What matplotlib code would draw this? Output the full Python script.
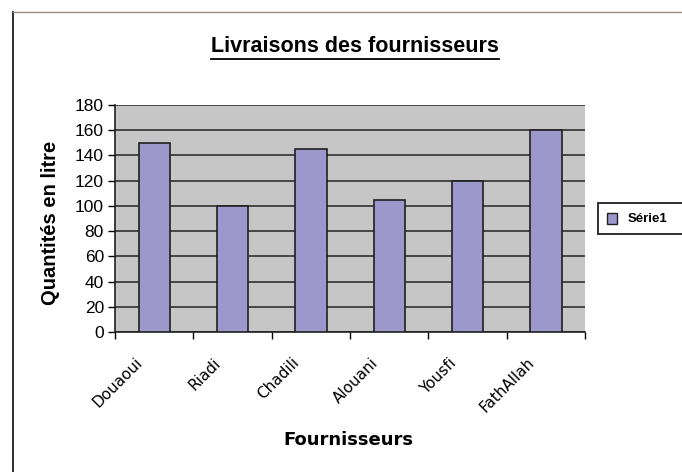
import numpy as np
import matplotlib
matplotlib.use("Agg")
import matplotlib.pyplot as plt
from matplotlib.lines import Line2D
from matplotlib.patches import Rectangle
from matplotlib.transforms import ScaledTranslation

plt.rcParams["font.family"] = ["Liberation Sans", "DejaVu Sans"]

fournisseurs = ["Douaoui", "Riadi", "Chadili", "Alouani", "Yousfi", "FathAllah"]
quantites = [150, 100, 145, 105, 120, 160]
y_ticks = list(range(0, 181, 20))
serie = "Série1"

BAR_COLOR = "#9c98cc"
W, H = 682, 472

fig = plt.figure(figsize=(W / 100, H / 100), dpi=100)
ax = fig.add_axes([115 / W, 1 - 332 / H, 470 / W, 227 / H])

x = np.arange(len(fournisseurs))
ax.set_facecolor("#c6c6c6")
ax.bar(x, quantites, width=0.40, color=BAR_COLOR, edgecolor="#202020",
       linewidth=1.2, zorder=3, label=serie)

ax.set_xlim(-0.5, len(fournisseurs) - 0.5)
ax.set_ylim(0, 180)
ax.set_yticks(y_ticks)
ax.yaxis.grid(True, color="#303030", linewidth=1.2, zorder=1)
ax.tick_params(axis="y", direction="out", length=5, width=1, labelsize=12.5, pad=3)

# category labels at centres, tick marks at the boundaries
ax.set_xticks(x)
ax.set_xticklabels(fournisseurs, rotation=45, ha="right", va="top",
                   rotation_mode="anchor", fontsize=11, family="DejaVu Sans")
ax.tick_params(axis="x", length=0, pad=0)
shift = ScaledTranslation(-0.19, -0.23, fig.dpi_scale_trans)
for lab in ax.get_xticklabels():
    lab.set_transform(lab.get_transform() + shift)
ax.set_xticks(np.arange(-0.5, len(fournisseurs)), minor=True)
ax.tick_params(axis="x", which="minor", direction="out", length=5, width=1)

for side in ["top", "right"]:
    ax.spines[side].set_visible(False)
for side in ["left", "bottom"]:
    ax.spines[side].set_linewidth(1.2)
    ax.spines[side].set_color("#202020")

ax.set_ylabel("Quantités en litre", fontsize=14.5, fontweight="bold")
ax.yaxis.set_label_coords((60 - 115) / 470, (332 - 223) / 227)
fig.text(348 / W, 1 - 440 / H, "Fournisseurs", ha="center", va="center",
         fontsize=13, fontweight="bold", family="DejaVu Sans")

title = fig.text(355 / W, 1 - 47 / H, "Livraisons des fournisseurs",
                 ha="center", va="center", fontsize=15.5, fontweight="bold")

# legend box running off the right edge, as in the original
fig.add_artist(Rectangle((598 / W, 1 - 234 / H), 100 / W, 31 / H,
                         transform=fig.transFigure, facecolor="white",
                         edgecolor="#303030", linewidth=1.4))
fig.add_artist(Rectangle((607 / W, 1 - 224 / H), 10 / W, 11 / H,
                         transform=fig.transFigure, facecolor=BAR_COLOR,
                         edgecolor="#202020", linewidth=1))
fig.text(628 / W, 1 - 219 / H, serie, ha="left", va="center",
         fontsize=9.5, fontweight="bold")

# chart-area border (left and top)
fig.add_artist(Line2D([13 / W, 13 / W], [0, 1 - 12 / H],
                      transform=fig.transFigure, color="#303030", linewidth=1.4))
fig.add_artist(Line2D([13 / W, 1], [1 - 12 / H, 1 - 12 / H],
                      transform=fig.transFigure, color="#a08c8c", linewidth=1.0))

# underline the title
fig.canvas.draw()
bb = title.get_window_extent().transformed(fig.transFigure.inverted())
fig.add_artist(Line2D([bb.x0, bb.x1], [bb.y0 - 0.003, bb.y0 - 0.003],
                      transform=fig.transFigure, color="black", linewidth=1.3))

fig.savefig("out.png", dpi=100)
